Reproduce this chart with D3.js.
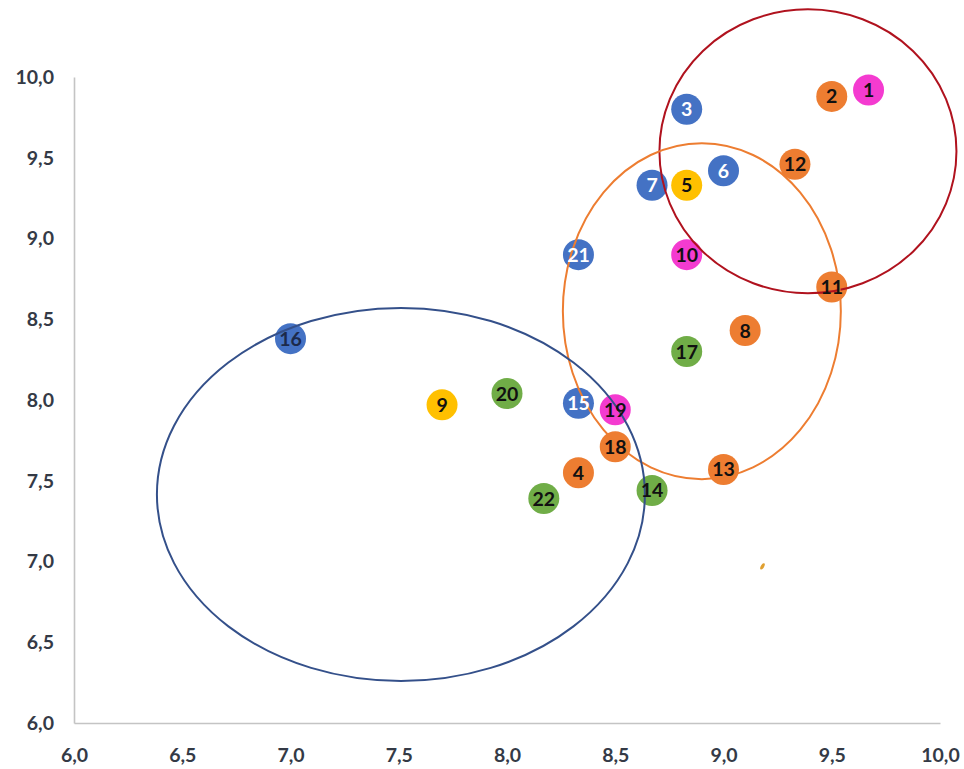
<!DOCTYPE html>
<html>
<head>
<meta charset="utf-8">
<script src="https://cdn.jsdelivr.net/npm/d3@7"></script>
<style>
  html, body { margin: 0; padding: 0; background: #fff; }
  svg { display: block; }
</style>
</head>
<body>
<svg id="chart" width="964" height="769"></svg>
<script>
// ---- data ----
const pointIds = [1, 2, 3, 4, 5, 6, 7, 8, 9, 10, 11, 12, 13, 14, 15, 16, 17, 18, 19, 20, 21, 22];
const xValues  = [9.67, 9.50, 8.83, 8.33, 8.83, 9.00, 8.67, 9.10, 7.70, 8.83, 9.50, 9.33, 9.00, 8.67, 8.33, 7.00, 8.83, 8.50, 8.50, 8.00, 8.33, 8.17];
const yValues  = [9.92, 9.88, 9.80, 7.55, 9.33, 9.42, 9.33, 8.43, 7.97, 8.90, 8.70, 9.46, 7.57, 7.44, 7.98, 8.38, 8.30, 7.71, 7.94, 8.04, 8.90, 7.39];
const groups   = ["pink", "orange", "blue", "orange", "yellow", "blue", "blue", "orange", "yellow", "pink", "orange",
                  "orange", "orange", "green", "blue", "blue", "green", "orange", "pink", "green", "blue", "green"];
const tickValues = [6.0, 6.5, 7.0, 7.5, 8.0, 8.5, 9.0, 9.5, 10.0];

// cluster ellipses (data units)
const ellipseNames = ["red", "orange", "navy"];
const ellipseCx = [9.39, 8.90, 7.51];
const ellipseCy = [9.54, 8.55, 7.415];
const ellipseRx = [0.686, 0.642, 1.127];
const ellipseRy = [0.879, 1.040, 1.155];

// stray small orange mark seen in the picture (data units)
const strayX = [9.18];
const strayY = [6.97];

// ---- styles ----
const fillColor = { pink: "#F43BD0", orange: "#ED7D31", blue: "#4472C4", yellow: "#FFC000", green: "#70AD47" };
const strokeColor = { red: "#B0121E", orange: "#ED7D31", navy: "#34508A" };
const whiteText = new Set([3, 6, 7, 15, 21]);

const svg = d3.select("#chart");
const x = d3.scaleLinear().domain([6, 10]).range([74, 940]);
const y = d3.scaleLinear().domain([6, 10]).range([723, 77]);

const locale = d3.formatLocale({ decimal: ",", thousands: ".", grouping: [3], currency: ["", "€"] });
const fmt = locale.format(".1f");

const fontFam = "Lato, 'Open Sans', 'DejaVu Sans', sans-serif";

// axes
const xAxis = svg.append("g").attr("transform", `translate(0,${y(6)})`)
  .call(d3.axisBottom(x).tickValues(tickValues).tickFormat(fmt).tickSize(0).tickPadding(25));
const yAxis = svg.append("g").attr("transform", `translate(${x(6)},0)`)
  .call(d3.axisLeft(y).tickValues(tickValues).tickFormat(fmt).tickSize(0).tickPadding(20));

[xAxis, yAxis].forEach(g => {
  g.select(".domain").attr("stroke", "#C4C4C4").attr("stroke-width", 1.6);
  g.selectAll("text").attr("font-family", fontFam).attr("font-weight", "bold")
    .attr("font-size", 19.5).attr("fill", "#343a46");
});

// points
const pts = pointIds.map((id, i) => ({ id, x: xValues[i], y: yValues[i], g: groups[i] }));

svg.append("g").selectAll("circle").data(pts).join("circle")
  .attr("cx", d => x(d.x)).attr("cy", d => y(d.y)).attr("r", 15.5)
  .attr("fill", d => fillColor[d.g]);

// stray mark
svg.append("g").selectAll("ellipse").data(strayX.map((v, i) => ({ x: v, y: strayY[i] }))).join("ellipse")
  .attr("transform", d => `translate(${x(d.x)},${y(d.y)}) rotate(30)`)
  .attr("rx", 1.6).attr("ry", 3.5).attr("fill", "#E0A030");

// ellipses
const ells = ellipseNames.map((n, i) => ({ n, cx: ellipseCx[i], cy: ellipseCy[i], rx: ellipseRx[i], ry: ellipseRy[i] }));
svg.append("g").selectAll("ellipse").data(ells).join("ellipse")
  .attr("cx", d => x(d.cx)).attr("cy", d => y(d.cy))
  .attr("rx", d => x(d.cx + d.rx) - x(d.cx))
  .attr("ry", d => y(d.cy) - y(d.cy + d.ry))
  .attr("fill", "none").attr("stroke", d => strokeColor[d.n]).attr("stroke-width", 2);

// labels
svg.append("g").selectAll("text").data(pts).join("text")
  .attr("x", d => x(d.x)).attr("y", d => y(d.y))
  .attr("dy", "0.36em")
  .attr("text-anchor", "middle")
  .attr("font-family", fontFam).attr("font-weight", "bold").attr("font-size", 19.5)
  .attr("fill", d => whiteText.has(d.id) ? "#ffffff" : (d.id === 16 ? "#1c2a4a" : "#111111"))
  .text(d => d.id);
</script>
</body>
</html>
